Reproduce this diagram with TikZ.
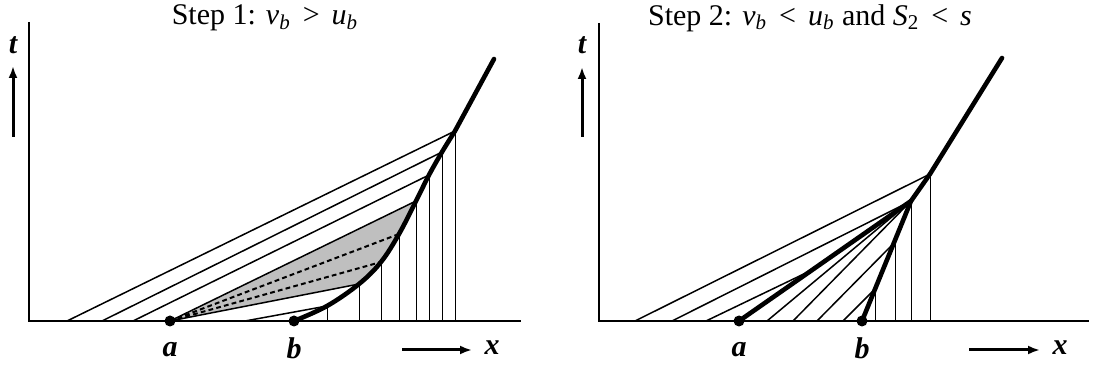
\documentclass[tikz,border=0pt]{standalone}
\usepackage{fontspec}
\setmainfont{Liberation Serif}
\usepackage{tikz}
\usetikzlibrary{arrows.meta, calc}
\newcommand{\vsub}[2]{\textit{#1}\textsubscript{\textit{#2}}}
\tikzset{
    axisline/.style={line width=0.8pt},
    charline/.style={line width=0.75pt},
    vertline/.style={line width=0.5pt},
    shockline/.style={line width=2.3pt, line cap=round},
    fanline/.style={line width=1pt, dash pattern=on 2.4pt off 1.6pt},
    fanfill/.style={fill=black!25},
    dirarrow/.style={line width=1.5pt, -{Latex[length=6pt,width=4.5pt]}},
    varlabel/.style={font=\fontsize{15}{17}\selectfont\bfseries\itshape},
    steptitle/.style={font=\fontsize{15}{17}\selectfont},
    enddot/.style={circle, fill, inner sep=0pt, minimum size=5.5pt}
}
\begin{document}
\begin{tikzpicture}[x=0.5pt, y=-0.5pt]
    \useasboundingbox (0,0) rectangle (1096,367);

    % Step 1 -------------------------------------------------------------
    \node[steptitle] (title1) at (265,18) {Step 1: \vsub{v}{b}\hspace{0.4em}>\hspace{0.4em}\vsub{u}{b}};
    \coordinate (o1) at (29,321);
    \coordinate (top1) at (29,22);
    \coordinate (end1) at (521,321);
    \coordinate (a1) at (170,321);
    \coordinate (b1) at (294,321);
    \coordinate (p1) at (327,306);
    \coordinate (p2) at (359,284);
    \coordinate (p3) at (381,262);
    \coordinate (p4) at (399,234);
    \coordinate (p5) at (416,201);
    \coordinate (p6) at (429,175);
    \coordinate (p7) at (442,152);
    \coordinate (p8) at (455,131);
    \coordinate (s1) at (494,59);

    % shaded fan from a
    \fill[fanfill] (a1) -- (p5) -- (p4) -- (p3) -- (p2) -- cycle;
    \draw[fanline] (a1) -- (p4);
    \draw[fanline] (a1) -- (p3);

    \draw[axisline] (top1) -- (o1) -- (end1);

    % characteristics
    \draw[charline] (67,321) -- (p8);
    \draw[charline] (102,321) -- (p7);
    \draw[charline] (133,321) -- (p6);
    \draw[charline] (a1) -- (p5);
    \draw[charline] (a1) -- (p2);
    \draw[charline] (245,321) -- (p1);
    \foreach \p in {p1,p2,p3,p4,p5,p6,p7,p8}
        \draw[vertline] (\p) -- (\p |- o1);

    % shock path
    \draw[shockline] plot[smooth, tension=0.6] coordinates
        {(294,321) (327,306) (359,284) (381,262) (399,234) (416,201) (429,175) (442,152) (455,131)}
        -- (s1);
    \node[enddot] (dota1) at (a1) {};
    \node[enddot] (dotb1) at (b1) {};

    % labels
    \node[varlabel] (la1) at (170,350) {a};
    \node[varlabel] (lb1) at (294,348) {b};
    \node[varlabel] (lt1) at (13,45) {t};
    \node[varlabel] (lx1) at (492,348) {x};
    \coordinate (tb1) at (13,137);
    \coordinate (tt1) at (13,66);
    \coordinate (xb1) at (402,350);
    \coordinate (xe1) at (472,350);
    \draw[dirarrow] (tb1) -- (tt1);
    \draw[dirarrow] (xb1) -- (xe1);

    % Step 2 -------------------------------------------------------------
    \node[steptitle] (title2) at (810,18) {Step 2: \vsub{v}{b}\hspace{0.4em}<\hspace{0.4em}\vsub{u}{b} and \textit{S}\textsubscript{2}\hspace{0.4em}<\hspace{0.4em}\textit{s}};
    \coordinate (o2) at (599,321);
    \coordinate (top2) at (599,23);
    \coordinate (end2) at (1089,321);
    \coordinate (a2) at (739,321);
    \coordinate (b2) at (862,321);
    \coordinate (q) at (911,201);
    \coordinate (r) at (930,174);
    \coordinate (j) at (810,271);
    \coordinate (u1) at (875,289);
    \coordinate (u2) at (895,242);
    \coordinate (s2) at (1002,58);

    \draw[axisline] (top2) -- (o2) -- (end2);

    % characteristics
    \draw[charline] (635,321) -- (r);
    \draw[charline] (672,321) -- (q);
    \draw[charline] (706,321) -- (j);
    \draw[charline] (767,321) -- (q);
    \draw[charline] (793,321) -- (q);
    \draw[charline] (817,321) -- (u2);
    \draw[charline] (843,321) -- (u1);
    \foreach \p in {u1,u2,q,r}
        \draw[vertline] (\p) -- (\p |- o2);

    % shocks
    \draw[shockline] (a2) -- (q);
    \draw[shockline] (b2) -- (q);
    \draw[shockline] (q) -- (r) -- (s2);
    \node[enddot] (dota2) at (a2) {};
    \node[enddot] (dotb2) at (b2) {};

    % labels
    \node[varlabel] (la2) at (739,350) {a};
    \node[varlabel] (lb2) at (862,348) {b};
    \node[varlabel] (lt2) at (582,45) {t};
    \node[varlabel] (lx2) at (1060,348) {x};
    \coordinate (tb2) at (582,137);
    \coordinate (tt2) at (582,67);
    \coordinate (xb2) at (969,350);
    \coordinate (xe2) at (1040,350);
    \draw[dirarrow] (tb2) -- (tt2);
    \draw[dirarrow] (xb2) -- (xe2);
\end{tikzpicture}
\end{document}
